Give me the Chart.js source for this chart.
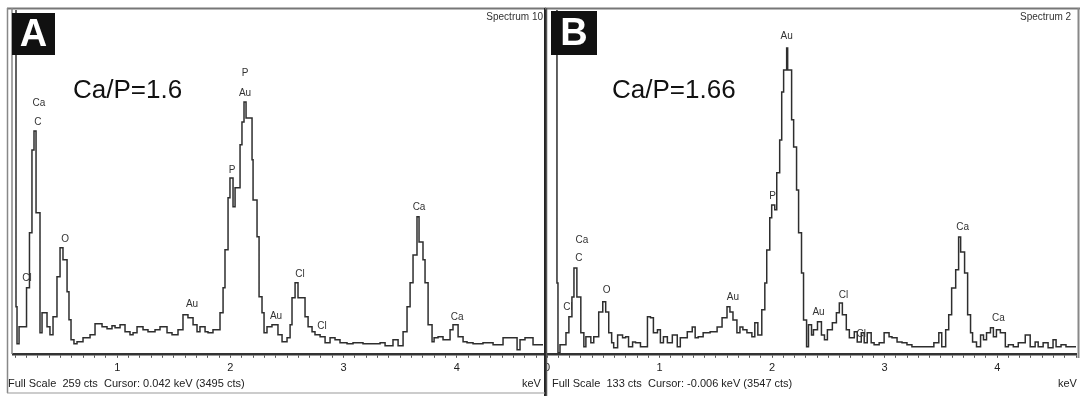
<!DOCTYPE html>
<html>
<head>
<meta charset="utf-8">
<script src="https://cdn.jsdelivr.net/npm/chart.js@4.4.1/dist/chart.umd.min.js"></script>
<style>
  html, body { margin: 0; padding: 0; background: #fff; }
  body { width: 1080px; height: 396px; position: relative; overflow: hidden; }
  canvas { position: absolute; top: 0; }
  #chartA { left: 0; }
  #chartB { left: 540px; }
</style>
</head>
<body>
<canvas id="chartA" width="546" height="396"></canvas>
<canvas id="chartB" width="540" height="396"></canvas>
<script>
// spectrum A (keV, counts) - step starts
const energyA = [0.106,0.115,0.133,0.199,0.225,0.247,0.265,0.283,0.318,0.336,0.380,0.406,0.433,0.468,0.495,0.521,0.557,0.574,0.592,0.618,
  0.645,0.698,0.760,0.804,0.866,0.910,0.954,0.981,1.025,1.069,1.113,1.140,1.175,1.228,1.272,1.334,1.378,1.440,1.484,1.537,
  1.581,1.625,1.670,1.705,1.731,1.776,1.802,1.846,1.908,1.935,1.952,1.979,1.996,2.023,2.041,2.085,2.102,2.120,2.138,2.191,
  2.200,2.235,2.253,2.279,2.297,2.323,2.367,2.420,2.456,2.500,2.527,2.544,2.571,2.597,2.659,2.686,2.721,2.747,2.792,2.836,
  2.880,2.924,2.968,3.030,3.083,3.171,3.322,3.366,3.436,3.481,3.525,3.560,3.587,3.613,3.648,3.666,3.701,3.719,3.746,3.781,
  3.799,3.834,3.878,3.940,3.966,4.011,4.055,4.090,4.143,4.231,4.320,4.408,4.532,4.558,4.602,4.673,4.708,4.761];
const countsA = [300,35.4,7.5,20.3,49.7,91.1,153.6,167.9,106.2,15.8,30.9,20.3,14.3,27.9,58.0,79.8,70.8,46.7,25.6,10.5,
  7.5,9.0,12.0,14.3,22.6,20.3,18.8,21.1,19.6,21.8,16.6,14.3,15.8,20.3,18.1,16.6,18.1,20.3,15.8,14.3,
  18.1,29.4,27.1,21.8,16.6,20.3,16.6,15.8,18.1,30.9,49.7,78.3,117.5,132.5,110.7,125.0,157.4,174.7,189.7,177.7,
  146.1,115.9,88.1,42.9,30.9,15.8,20.3,21.8,14.3,9.0,12.0,21.8,42.2,53.5,42.2,27.9,20.3,16.6,14.3,12.8,
  8.3,12.0,10.5,8.3,7.5,8.3,7.5,8.3,6.0,10.5,6.0,16.6,35.4,53.5,74.5,103.2,84.3,70.8,53.5,21.8,
  9.0,12.0,12.8,10.5,18.1,21.8,12.8,9.0,8.3,7.5,8.3,6.8,12.0,3.0,10.5,12.0,6.8,6.8];

// spectrum B
const energyB = [0.088,0.097,0.115,0.168,0.194,0.221,0.239,0.265,0.300,0.327,0.345,0.389,0.415,0.459,0.495,0.521,0.548,0.574,0.592,0.627,
  0.671,0.698,0.724,0.760,0.786,0.830,0.892,0.919,0.945,0.981,1.007,1.034,1.069,1.113,1.157,1.184,1.246,1.290,1.316,1.343,
  1.387,1.449,1.511,1.555,1.599,1.625,1.652,1.687,1.714,1.740,1.776,1.820,1.846,1.873,1.908,1.935,1.952,1.979,1.996,2.023,
  2.041,2.067,2.085,2.102,2.129,2.138,2.173,2.191,2.217,2.235,2.261,2.279,2.306,2.323,2.350,2.367,2.403,2.438,2.465,2.491,
  2.535,2.571,2.597,2.624,2.659,2.686,2.730,2.756,2.792,2.818,2.845,2.880,2.906,2.951,2.995,3.039,3.065,3.110,3.154,3.198,
  3.242,3.437,3.481,3.507,3.542,3.569,3.595,3.631,3.657,3.675,3.710,3.737,3.763,3.781,3.816,3.852,3.878,3.905,3.940,3.966,
  3.993,4.028,4.072,4.099,4.143,4.187,4.249,4.293,4.337,4.364,4.408,4.452,4.496,4.523,4.567,4.611,4.655,4.700];
const countsB = [150,27.4,0.4,3.5,8.1,14.3,22.0,33.2,22.0,8.1,2.7,6.6,4.3,6.6,16.2,20.1,16.2,8.1,4.3,2.3,
  7.3,6.2,6.6,2.7,4.6,4.3,2.7,14.3,13.9,8.1,9.3,4.3,6.6,4.3,7.3,2.7,6.2,8.5,10.4,6.2,
  6.6,8.1,8.5,10.4,13.9,18.2,16.2,13.1,8.1,10.4,9.3,8.1,6.6,12.0,7.3,17.0,27.4,40.2,52.6,57.6,
  55.7,70.0,82.7,101.3,109.8,118.3,109.8,90.5,80.0,63.4,46.8,31.3,13.1,2.7,11.2,7.3,9.3,12.4,7.3,5.4,
  9.3,12.0,15.9,19.7,15.1,9.3,6.2,8.5,4.6,8.1,4.3,8.1,4.3,3.5,4.3,8.1,6.6,6.2,4.6,4.3,
  3.5,2.7,4.3,8.1,2.7,9.3,15.1,25.5,32.5,45.2,39.4,31.3,15.1,8.1,4.6,2.7,7.3,5.4,8.1,10.1,
  6.6,9.3,8.1,2.7,3.5,2.7,4.3,7.3,2.7,4.6,2.7,4.3,2.3,5.4,2.7,3.5,2.7,2.7];

// peak markers (element, keV, counts where the label sits)
const peakNamesA = ['Ca','C','Cl','O','P','Au','P','Au','Au','Cl','Cl','Ca','Ca'];
const peakEnergyA = [0.309,0.300,0.203,0.539,2.129,2.129,2.014,1.661,2.403,2.615,2.809,3.666,4.002];
const peakCountsA = [189.0,174.7,57.2,86.6,211.6,196.5,138.5,37.6,28.6,60.2,21.1,110.7,27.9];
const peakNamesB = ['Ca','C','Cl','O','Au','P','Au','Au','Cl','Cl','Ca','Ca'];
const peakEnergyB = [0.309,0.283,0.186,0.530,1.652,2.005,2.129,2.412,2.633,2.792,3.693,4.011];
const peakCountsB = [44.1,37.1,18.2,24.4,22.0,61.1,122.9,15.9,22.8,7.7,49.1,13.9];

const fullScaleA = 259;
const fullScaleB = 133;
const majorTicks = [0, 1, 2, 3, 4];

const FONT = 'Arial, "Liberation Sans", sans-serif';

function txt(ctx, s, x, y, font, color, align) {
  ctx.font = font;
  ctx.fillStyle = color;
  ctx.textAlign = align || 'left';
  ctx.textBaseline = 'middle';
  ctx.fillText(s, x, y);
}

const panelDecor = {
  id: 'panelDecor',
  afterDraw(chart, args, o) {
    const ctx = chart.ctx;
    const xs = chart.scales.x, ys = chart.scales.y;
    ctx.save();
    // frame
    o.lines.forEach(l => {
      ctx.strokeStyle = l[5];
      ctx.lineWidth = l[4];
      ctx.beginPath();
      ctx.moveTo(l[0], l[1]);
      ctx.lineTo(l[2], l[3]);
      ctx.stroke();
    });
    // peak labels
    o.names.forEach((n, i) => {
      txt(ctx, n, xs.getPixelForValue(o.energy[i]), ys.getPixelForValue(o.counts[i]), '10px ' + FONT, '#333', 'center');
    });
    // panel letter
    const b = o.box;
    ctx.fillStyle = '#111';
    ctx.fillRect(b[0], b[1], b[2], b[3]);
    txt(ctx, o.letter, b[0] + b[2] / 2, b[1] + b[3] / 2 + 2, 'bold 38px ' + FONT, '#fff', 'center');
    txt(ctx, o.ratio, o.ratioPos[0], o.ratioPos[1], '26px ' + FONT, '#111', 'left');
    txt(ctx, o.spectrum, o.specPos[0], o.specPos[1], '10px ' + FONT, '#333', o.specAlign);
    txt(ctx, o.footer, o.footPos[0], o.footPos[1], '11px ' + FONT, '#222', 'left');
    txt(ctx, 'keV', o.kevPos[0], o.kevPos[1], '11px ' + FONT, '#222', 'left');
    ctx.restore();
  }
};

function makeChart(id, energies, counts, full, xMin, xMax, pad, decor) {
  const pts = energies.map((e, i) => ({ x: e, y: counts[i] }));
  return new Chart(document.getElementById(id).getContext('2d'), {
    type: 'line',
    data: {
      datasets: [{
        data: pts,
        stepped: 'after',
        borderColor: '#2e2e2e',
        borderWidth: 1.5,
        pointRadius: 0,
        fill: false
      }]
    },
    options: {
      responsive: false,
      animation: false,
      layout: { padding: pad },
      plugins: { legend: { display: false }, tooltip: { enabled: false }, panelDecor: decor },
      scales: {
        x: {
          type: 'linear',
          min: xMin,
          max: xMax,
          afterBuildTicks: axis => {
            const t = [];
            for (let k = 0; k <= 50; k++) {
              const v = k / 10;
              if (v >= xMin - 1e-9 && v <= xMax + 1e-9) t.push({ value: v });
            }
            axis.ticks = t;
          },
          grid: { drawOnChartArea: false, drawTicks: true, tickLength: 4, color: '#555', tickWidth: 1 },
          border: { display: true, color: '#333', width: 2.5 },
          ticks: {
            autoSkip: false,
            maxRotation: 0,
            padding: 4,
            color: '#222',
            font: { family: FONT, size: 11 },
            callback: v => {
              const r = Math.round(v);
              return (Math.abs(v - r) < 1e-6 && majorTicks.includes(r)) ? String(r) : '';
            }
          }
        },
        y: { display: false, min: 0, max: full }
      }
    },
    plugins: [panelDecor]
  });
}

makeChart('chartA', energyA, countsA, fullScaleA, 0.0795, 4.761,
  { left: 13, right: 3, top: 10, bottom: 17 },
  {
    names: peakNamesA, energy: peakEnergyA, counts: peakCountsA,
    lines: [
      [7, 8.5, 546, 8.5, 2, '#777'],
      [7.5, 8, 7.5, 393, 1.5, '#888'],
      [12, 8, 12, 354, 1.5, '#888'],
      [545, 8, 545, 396, 2, '#222'],
      [7, 393, 545, 393, 1, '#999']
    ],
    box: [12, 13, 43, 42], letter: 'A',
    ratio: 'Ca/P=1.6', ratioPos: [73, 91],
    spectrum: 'Spectrum 10', specPos: [543, 17], specAlign: 'right',
    footer: 'Full Scale  ' + fullScaleA + ' cts  Cursor: 0.042 keV (3495 cts)', footPos: [8, 384],
    kevPos: [522, 384]
  });

makeChart('chartB', energyB, countsB, fullScaleB, 0, 4.70,
  { left: 6, right: 2, top: 10, bottom: 17 },
  {
    names: peakNamesB, energy: peakEnergyB, counts: peakCountsB,
    lines: [
      [5, 8.5, 540, 8.5, 2, '#777'],
      [6.5, 8, 6.5, 396, 1.5, '#555'],
      [538.5, 8, 538.5, 358, 2, '#888']
    ],
    box: [11, 11, 46, 44], letter: 'B',
    ratio: 'Ca/P=1.66', ratioPos: [72, 91],
    spectrum: 'Spectrum 2', specPos: [480, 17], specAlign: 'left',
    footer: 'Full Scale  ' + fullScaleB + ' cts  Cursor: -0.006 keV (3547 cts)', footPos: [12, 384],
    kevPos: [518, 384]
  });
</script>
</body>
</html>
